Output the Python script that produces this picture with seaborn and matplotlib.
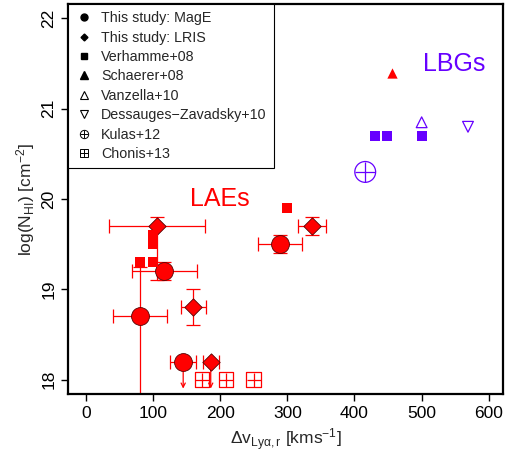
import matplotlib
matplotlib.use("Agg")
import matplotlib.pyplot as plt
from matplotlib.lines import Line2D
import seaborn as sns
import pandas as pd

RED = "#ff0000"
BLUE = "#6600ff"

# This study: MagE (circles)
mage_x = [81, 117, 145, 289]
mage_y = [18.7, 19.2, 18.2, 19.5]
mage_xerr = [40, 48, 19, 33]
mage_yerr_lo = [1.7, 0.1, 0.0, 0.1]
mage_yerr_hi = [0.55, 0.1, 0.0, 0.1]
mage_uplim = [False, False, True, False]

# This study: LRIS (diamonds)
lris_x = [106, 160, 186, 337]
lris_y = [19.7, 18.8, 18.2, 19.7]
lris_xerr = [71, 19, 12, 21]
lris_yerr_lo = [0.6, 0.2, 0.0, 0.1]
lris_yerr_hi = [0.1, 0.2, 0.0, 0.1]
lris_uplim = [False, False, True, False]

# Verhamme+08 (squares): LAEs red, LBGs blue
verh_lae_x = [299, 100, 100, 80, 100]
verh_lae_y = [19.9, 19.6, 19.5, 19.3, 19.3]
verh_lbg_x = [430, 449, 500]
verh_lbg_y = [20.7, 20.7, 20.7]

schaerer_x, schaerer_y = [456], [21.4]
vanzella_x, vanzella_y = [500], [20.85]
dessauges_x, dessauges_y = [569], [20.8]
kulas_x, kulas_y = [416], [20.3]
chonis_x = [173, 209, 250]
chonis_y = [18.0, 18.0, 18.0]

limit_end = 17.9

sns.set_style("ticks")
plt.rcParams["font.family"] = ["Liberation Sans", "DejaVu Sans"]
plt.rcParams["mathtext.fontset"] = "custom"
plt.rcParams["mathtext.rm"] = "Liberation Sans"
plt.rcParams["mathtext.it"] = "Liberation Sans"

fig = plt.figure(figsize=(5.08, 4.61), dpi=100)
ax = fig.add_axes([0.1345, 0.1453, 0.990 - 0.1345, 0.9913 - 0.1453])

mage = pd.DataFrame({"x": mage_x, "y": mage_y, "xe": mage_xerr,
                     "lo": mage_yerr_lo, "hi": mage_yerr_hi, "ul": mage_uplim})
lris = pd.DataFrame({"x": lris_x, "y": lris_y, "xe": lris_xerr,
                     "lo": lris_yerr_lo, "hi": lris_yerr_hi, "ul": lris_uplim})

for df in (mage, lris):
    ax.errorbar(df["x"], df["y"], xerr=df["xe"], yerr=[df["lo"], df["hi"]],
                fmt="none", ecolor=RED, elinewidth=0.9, capsize=5, capthick=0.9, zorder=2)
    for _, r in df[df["ul"]].iterrows():
        ax.annotate("", xy=(r["x"], limit_end), xytext=(r["x"], r["y"]),
                    arrowprops=dict(arrowstyle="->,head_length=0.3,head_width=0.15",
                                    color=RED, lw=0.9, shrinkA=0, shrinkB=0), zorder=2)

sns.scatterplot(data=mage, x="x", y="y", marker="o", s=165, color=RED,
                edgecolor="#550000", linewidth=0.6, ax=ax, zorder=3)
sns.scatterplot(data=lris, x="x", y="y", marker="D", s=78, color=RED,
                edgecolor="#550000", linewidth=0.6, ax=ax, zorder=3)
sns.scatterplot(x=verh_lae_x, y=verh_lae_y, marker="s", s=42, color=RED,
                linewidth=0, ax=ax, zorder=3)
sns.scatterplot(x=verh_lbg_x, y=verh_lbg_y, marker="s", s=44, color=BLUE,
                linewidth=0, ax=ax, zorder=3)
sns.scatterplot(x=schaerer_x, y=schaerer_y, marker="^", s=55, color=RED,
                linewidth=0, ax=ax, zorder=3)
sns.scatterplot(x=vanzella_x, y=vanzella_y, marker="^", s=60, facecolor="none",
                edgecolor=BLUE, linewidth=0.9, ax=ax, zorder=3)
sns.scatterplot(x=dessauges_x, y=dessauges_y, marker="v", s=60, facecolor="none",
                edgecolor=BLUE, linewidth=0.9, ax=ax, zorder=3)
sns.scatterplot(x=kulas_x, y=kulas_y, marker="o", s=225, facecolor="none",
                edgecolor=BLUE, linewidth=0.9, ax=ax, zorder=3)
sns.scatterplot(x=kulas_x, y=kulas_y, marker="+", s=225, color=BLUE,
                linewidth=0.9, ax=ax, zorder=3)
sns.scatterplot(x=chonis_x, y=chonis_y, marker="s", s=110, facecolor="none",
                edgecolor=RED, linewidth=0.9, ax=ax, zorder=3)
sns.scatterplot(x=chonis_x, y=chonis_y, marker="+", s=110, color=RED,
                linewidth=0.9, ax=ax, zorder=3)

ax.text(199, 20.0, "LAEs", color=RED, fontsize=18, ha="center", va="center")
ax.text(548, 21.5, "LBGs", color=BLUE, fontsize=18, ha="center", va="center")

ax.set_xlim(-26, 621)
ax.set_ylim(17.84, 22.16)
ax.set_xticks([0, 100, 200, 300, 400, 500, 600])
ax.set_yticks([18, 19, 20, 21, 22])
ax.set_xlabel(r"$\Delta$v$_{\mathrm{Ly\alpha,r}}$ [kms$^{-1}$]", fontsize=12.5, labelpad=4)
ax.set_ylabel(r"log(N$_{\mathrm{HI}}$) [cm$^{-2}$]", fontsize=12.5, labelpad=3)
ax.tick_params(direction="out", length=5, width=1, labelsize=12.5, colors="black")
for lab in ax.get_yticklabels():
    lab.set_rotation(90)
    lab.set_va("center")
for s in ax.spines.values():
    s.set_linewidth(1.6)
    s.set_color("black")

handles = [
    Line2D([], [], ls="none", marker="o", color="k", ms=5),
    Line2D([], [], ls="none", marker="D", color="k", ms=3.5),
    Line2D([], [], ls="none", marker="s", color="k", ms=4.5),
    Line2D([], [], ls="none", marker="^", color="k", ms=6),
    Line2D([], [], ls="none", marker="^", mfc="none", mec="k", ms=6, mew=0.8),
    Line2D([], [], ls="none", marker="v", mfc="none", mec="k", ms=6, mew=0.8),
    (Line2D([], [], ls="none", marker="o", mfc="none", mec="k", ms=6, mew=0.7),
     Line2D([], [], ls="none", marker="+", color="k", ms=6, mew=0.7)),
    (Line2D([], [], ls="none", marker="s", mfc="none", mec="k", ms=5.5, mew=0.7),
     Line2D([], [], ls="none", marker="+", color="k", ms=5.5, mew=0.7)),
]
labels = ["This study: MagE", "This study: LRIS", "Verhamme+08", "Schaerer+08",
          "Vanzella+10", "Dessauges\u2212Zavadsky+10", "Kulas+12", "Chonis+13"]
leg = ax.legend(handles, labels, loc="upper left", borderaxespad=0, fontsize=10.3,
                frameon=True, fancybox=False, edgecolor="black", framealpha=1,
                handlelength=1.2, handletextpad=0.6, labelspacing=0.38,
                borderpad=0.5)
leg.get_frame().set_linewidth(0.8)

fig.savefig("out.png", dpi=100)
